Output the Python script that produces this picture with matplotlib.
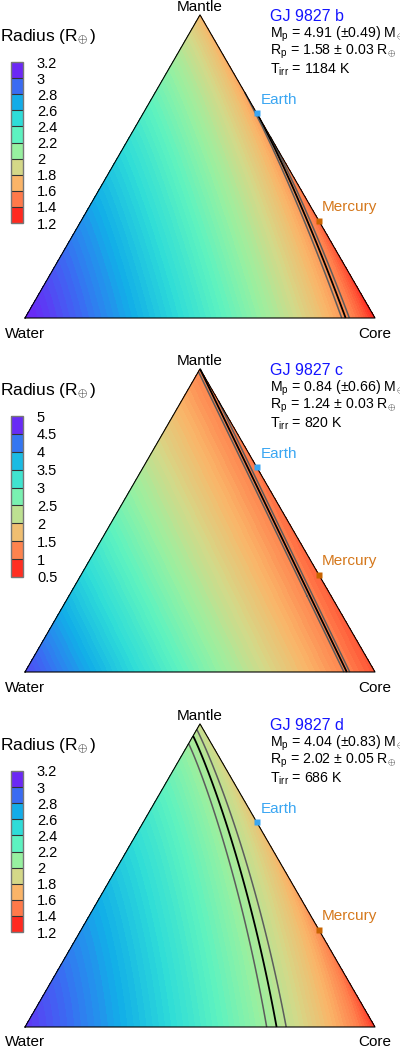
import numpy as np
import matplotlib
matplotlib.use("Agg")
import matplotlib.pyplot as plt
import matplotlib.tri as mtri
from matplotlib.colors import LinearSegmentedColormap, ListedColormap, BoundaryNorm, Normalize
from matplotlib.cm import ScalarMappable

plt.rcParams['font.family'] = ['Liberation Sans', 'DejaVu Sans']
plt.rcParams['mathtext.fontset'] = 'custom'
plt.rcParams['mathtext.rm'] = 'Liberation Sans'
plt.rcParams['mathtext.it'] = 'Liberation Sans:italic'

# planet parameters
planets = ['GJ 9827 b', 'GJ 9827 c', 'GJ 9827 d']
mass = [4.91, 0.84, 4.04]
mass_err = [0.49, 0.66, 0.83]
radius = [1.58, 1.24, 2.02]
radius_err = [0.03, 0.03, 0.05]
t_irr = [1184, 820, 686]

# radius of pure water / mantle / core planets
r_water = [3.12, 4.55, 3.05]
r_mantle = [1.69, 1.24, 1.9]
r_core = [1.25, 0.95, 1.30]
water_exp = [0.7, 1.0, 0.7]
core_exp = [1.25, 1.0, 1.25]

cbar_ticks = [
    [1.2, 1.4, 1.6, 1.8, 2.0, 2.2, 2.4, 2.6, 2.8, 3.0, 3.2],
    [0.5, 1.0, 1.5, 2.0, 2.5, 3.0, 3.5, 4.0, 4.5, 5.0],
    [1.2, 1.4, 1.6, 1.8, 2.0, 2.2, 2.4, 2.6, 2.8, 3.0, 3.2],
]

# core mass fraction of Earth and Mercury (no water)
earth_core = 0.325
mercury_core = 0.68

cmap_colors = ['#ff1a14', '#ff2a20', '#ff7a4a', '#fab468', '#d4d888', '#98f0a0',
               '#5cf2c0', '#2edcd8', '#12aee8', '#3a6cf2', '#6a28f5', '#7420f8']
cmap_pos = [0.0, 0.05, 0.15, 0.25, 0.35, 0.45, 0.55, 0.65, 0.75, 0.85, 0.95, 1.0]
cmap = LinearSegmentedColormap.from_list('rad', list(zip(cmap_pos, cmap_colors)))

H = 1047
bottoms = [318, 672, 1027]   # pixel row of the triangle base
S3 = np.sqrt(3) / 2


def to_xy(w, m, c):
    return c + 0.5 * m, m * S3


def radius_model(w, m, c, rw, rm, rc, a, q):
    rock = m + c
    cf = np.where(rock > 0, c / np.where(rock > 0, rock, 1), 0.0)
    r_rock = rm + (rc - rm) * cf ** q
    return r_rock + (rw - r_rock) * w ** a


# composition grid
n = 160
ii, jj = np.meshgrid(np.arange(n + 1), np.arange(n + 1))
keep = ii + jj <= n
W = ii[keep] / n
C = jj[keep] / n
M = np.clip(1 - W - C, 0, 1)
X, Y = to_xy(W, M, C)
tri = mtri.Triangulation(X, Y)

fig = plt.figure(figsize=(4.0, 10.47), dpi=100)

for k in range(3):
    b = bottoms[k]
    ax = fig.add_axes([0, (H - (b + 20)) / H, 1, 350 / H])
    ax.set_xlim(-25 / 350, 375 / 350)
    ax.set_ylim(-20 / 350, 330 / 350)
    ax.axis('off')

    ticks = cbar_ticks[k]
    vmin, vmax = ticks[0], ticks[-1]
    R = radius_model(W, M, C, r_water[k], r_mantle[k], r_core[k], water_exp[k], core_exp[k])
    levels = np.linspace(vmin, vmax, 81)
    ax.tricontourf(tri, R, levels=levels, cmap=cmap, norm=Normalize(vmin, vmax),
                   extend='both', antialiased=False)

    rp, re = radius[k], radius_err[k]
    ax.tricontour(tri, R, levels=[rp - re, rp, rp + re],
                  colors=['#5c5c5c', 'k', '#5c5c5c'], linewidths=[1.1, 1.3, 1.1])

    # triangle outline
    cx, cy = to_xy(np.array([1, 0, 0, 1]), np.array([0, 0, 1, 0]), np.array([0, 1, 0, 0]))
    ax.plot(cx, cy, color='k', lw=0.8, clip_on=False)

    ax.text(0.5, S3 + 3.5 / 350, 'Mantle', ha='center', va='baseline', fontsize=11)
    ax.text(0.0, -19.5 / 350, 'Water', ha='center', va='baseline', fontsize=11)
    ax.text(1.0, -19.5 / 350, 'Core', ha='center', va='baseline', fontsize=11)

    # Earth and Mercury
    ex, ey = to_xy(0, 1 - earth_core, earth_core)
    ax.plot(ex, ey, 's', ms=5, color='#3aa6f2', mec='none', zorder=5, clip_on=False)
    ax.annotate('Earth', (ex, ey), xytext=(2.5, 10), textcoords='offset points',
                ha='left', va='center', fontsize=11, color='#3aa6f2')
    mx, my = to_xy(0, 1 - mercury_core, mercury_core)
    ax.plot(mx, my, 's', ms=5, color='#c86400', mec='none', zorder=5, clip_on=False)
    ax.annotate('Mercury', (mx, my), xytext=(2.2, 10), textcoords='offset points',
                ha='left', va='center', fontsize=11, color='#d5781c')

    # planet info
    tx = (270 - 25) / 350
    top = S3
    ax.text(tx, top - 2 / 350, planets[k], ha='left', va='center', fontsize=11.5, color='#1414ff')
    ax.text(tx, top - 19 / 350,
            r'$\mathrm{M}_\mathrm{p}$ = %.2f (±%.2f) $\mathrm{M}_{\!\oplus}$' % (mass[k], mass_err[k]),
            ha='left', va='center', fontsize=10.2)
    ax.text(tx, top - 37 / 350,
            r'$\mathrm{R}_\mathrm{p}$ = %.2f ± %.2f $\mathrm{R}_{\!\oplus}$' % (rp, re),
            ha='left', va='center', fontsize=10.2)
    ax.text(tx, top - 55 / 350, r'$\mathrm{T}_\mathrm{irr}$ = %d K' % t_irr[k],
            ha='left', va='center', fontsize=10.2)

    # colorbar
    nb = len(ticks) - 1
    bins = ListedColormap([cmap((i + 0.5) / nb) for i in range(nb)])
    sm = ScalarMappable(norm=BoundaryNorm(ticks, nb), cmap=bins)
    cax = fig.add_axes([11 / 400, (H - (b - 95)) / H, 12 / 400, 161 / H])
    cb = fig.colorbar(sm, cax=cax, drawedges=True)
    cb.set_ticks(ticks)
    cb.set_ticklabels(['%g' % t for t in ticks])
    cax.tick_params(length=0, pad=10, labelsize=10.5)
    cb.outline.set_edgecolor('#777777')
    cb.outline.set_linewidth(1.0)
    cb.dividers.set_color('#333333')
    cb.dividers.set_linewidth(0.8)
    fig.text(0, (H - (b - 281)) / H, r'Radius ($\mathrm{R}_{\!\oplus}$)', ha='left', va='center',
             fontsize=12.5)

fig.savefig('out.png', dpi=100)
